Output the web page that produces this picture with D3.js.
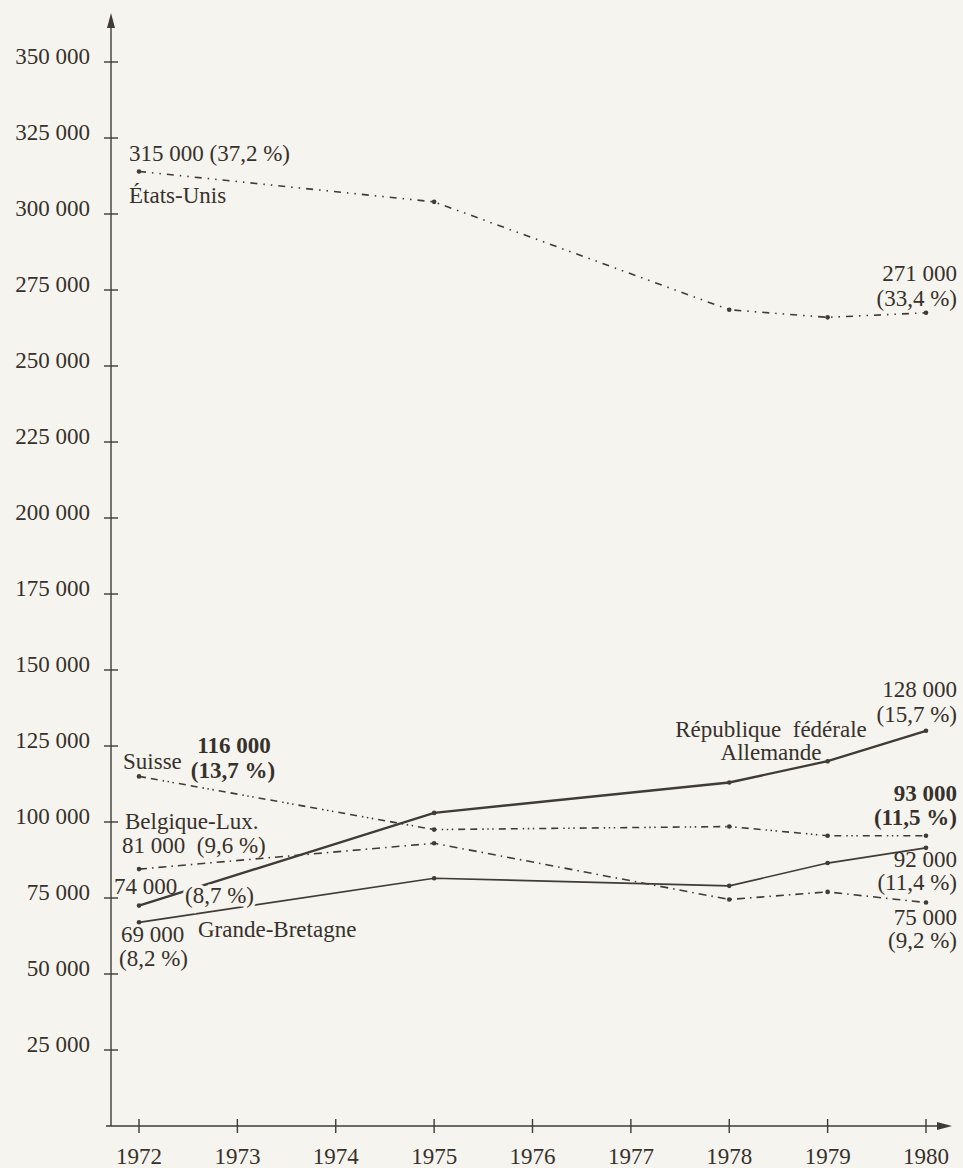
<!DOCTYPE html>
<html lang="fr">
<head>
  <meta charset="UTF-8">
  <title>Entreprises suisses en France</title>
  <script src="https://cdnjs.cloudflare.com/ajax/libs/d3/7.8.5/d3.min.js"></script>
  <style>
    body { margin: 0; background: #f6f4ee; }
    svg { display: block; }
    text { font-family: "Liberation Serif", "Times New Roman", serif; fill: #36312c; }
  </style>
</head>
<body>
  <svg width="963" height="1168"></svg>
  <script>
    // data
    const years = [1972, 1975, 1978, 1979, 1980];
    const etatsUnis = [314000, 304000, 268500, 266000, 267500];
    const allemagne = [72500, 103000, 113000, 120000, 130000];
    const suisse = [115000, 97500, 98500, 95500, 95500];
    const grandeBretagne = [67000, 81500, 79000, 86500, 91500];
    const belgiqueLux = [84500, 93000, 74500, 77000, 73500];

    const tickYears = d3.range(1972, 1981);
    const tickValues = d3.range(25000, 350001, 25000);

    const bg = "#f6f4ee";
    const ink = "#403b35";

    const svg = d3.select("svg");

    const x = d3.scaleLinear().domain([1972, 1980]).range([139, 926]);
    const y = d3.scaleLinear().domain([0, 350000]).range([1126, 62]);

    const fmt = v => d3.format(",")(v).replace(/,/g, " ");

    // axes
    const axisX0 = 111;
    const axisY0 = y(0);
    svg.append("line")
      .attr("x1", axisX0).attr("y1", axisY0)
      .attr("x2", axisX0).attr("y2", 22)
      .attr("stroke", ink).attr("stroke-width", 1.4);
    svg.append("path")
      .attr("d", `M${axisX0},13 L${axisX0 - 4},28 L${axisX0 + 4},28 Z`)
      .attr("fill", ink);
    svg.append("line")
      .attr("x1", 106).attr("y1", axisY0)
      .attr("x2", 942).attr("y2", axisY0)
      .attr("stroke", ink).attr("stroke-width", 1.4);
    svg.append("path")
      .attr("d", `M952,${axisY0} L937,${axisY0 - 4} L937,${axisY0 + 4} Z`)
      .attr("fill", ink);

    // y ticks
    const yt = svg.append("g");
    yt.selectAll("line").data(tickValues).enter().append("line")
      .attr("x1", 104).attr("x2", 118)
      .attr("y1", d => y(d)).attr("y2", d => y(d))
      .attr("stroke", ink).attr("stroke-width", 1.4);
    yt.selectAll("text").data(tickValues).enter().append("text")
      .attr("x", 90).attr("y", d => y(d) + 2)
      .attr("text-anchor", "end")
      .attr("font-size", 23)
      .text(fmt);

    // x ticks
    const xt = svg.append("g");
    xt.selectAll("line").data(tickYears).enter().append("line")
      .attr("x1", d => x(d)).attr("x2", d => x(d))
      .attr("y1", axisY0 - 7).attr("y2", axisY0 + 7)
      .attr("stroke", ink).attr("stroke-width", 1.4);
    xt.selectAll("text").data(tickYears).enter().append("text")
      .attr("x", d => x(d)).attr("y", 1164)
      .attr("text-anchor", "middle")
      .attr("font-size", 23)
      .text(d => d);

    // series
    const series = [
      { name: "etatsUnis", values: etatsUnis, width: 1.6, dash: "7,6,1.5,6,1.5,6" },
      { name: "suisse", values: suisse, width: 1.6, dash: "7,5,7,5,1.5,3.5,1.5,3.5,1.5,5" },
      { name: "belgiqueLux", values: belgiqueLux, width: 1.6, dash: "8,5,1.5,5" },
      { name: "grandeBretagne", values: grandeBretagne, width: 1.7, dash: null },
      { name: "allemagne", values: allemagne, width: 2.4, dash: null }
    ];

    const line = d3.line()
      .x((d, i) => x(years[i]))
      .y(d => y(d));

    const lines = svg.append("g");
    series.forEach(s => {
      lines.append("path")
        .datum(s.values)
        .attr("fill", "none")
        .attr("stroke", ink)
        .attr("stroke-width", s.width)
        .attr("stroke-dasharray", s.dash)
        .attr("d", line);
      lines.selectAll(null).data(s.values).enter().append("circle")
        .attr("cx", (d, i) => x(years[i]))
        .attr("cy", d => y(d))
        .attr("r", 2.3)
        .attr("fill", ink);
    });

    // labels
    const labels = [
      ["315 000 (37,2 %)", 129, 161, "start", false],
      ["États-Unis", 129, 203, "start", false],
      ["271 000", 957, 281, "end", false],
      ["(33,4 %)", 957, 306, "end", false],
      ["Suisse", 123, 769, "start", false],
      ["116 000", 234, 753, "middle", true],
      ["(13,7 %)", 233, 778, "middle", true],
      ["Belgique-Lux.", 125, 829, "start", false],
      ["81 000\u00a0 (9,6 %)", 122, 853, "start", false],
      ["74 000", 114, 894, "start", false],
      ["Grande-Bretagne", 198, 937, "start", false],
      ["69 000", 121, 942, "start", false],
      ["(8,2 %)", 119, 966, "start", false],
      ["128 000", 957, 697, "end", false],
      ["(15,7 %)", 957, 722, "end", false],
      ["République\u00a0 fédérale", 771, 737, "middle", false],
      ["Allemande", 771, 760, "middle", false],
      ["93 000", 957, 801, "end", true],
      ["(11,5 %)", 957, 825, "end", true],
      ["92 000", 957, 867, "end", false],
      ["(11,4 %)", 957, 890, "end", false],
      ["75 000", 957, 925, "end", false],
      ["(9,2 %)", 957, 948, "end", false]
    ];

    const lab = svg.append("g");
    labels.forEach(([t, lx, ly, anchor, bold]) => {
      lab.append("text")
        .attr("x", lx).attr("y", ly)
        .attr("text-anchor", anchor)
        .attr("font-size", 23)
        .attr("font-weight", bold ? "bold" : "normal")
        .text(t);
    });

    // this one cuts through the Allemagne line
    lab.append("text")
      .attr("x", 185).attr("y", 903)
      .attr("font-size", 23)
      .attr("stroke", bg).attr("stroke-width", 7)
      .attr("paint-order", "stroke")
      .text("(8,7 %)");
  </script>
</body>
</html>
